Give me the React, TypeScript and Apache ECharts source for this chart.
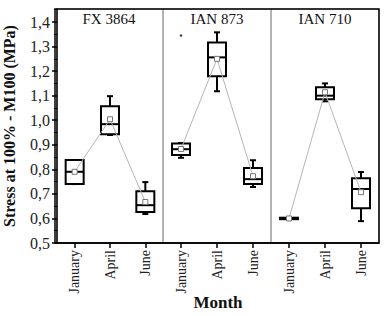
import React, { useEffect, useRef } from "react";
import * as echarts from "echarts";

const categories = ["January", "April", "June"];
const panelTitles = ["FX 3864", "IAN 873", "IAN 710"];
const yTickValues = [0.5, 0.6, 0.7, 0.8, 0.9, 1.0, 1.1, 1.2, 1.3, 1.4];

// [min, Q1, median, Q3, max]
const fx3864Box = [
  [0.74, 0.74, 0.79, 0.838, 0.838],
  [0.94, 0.943, 0.984, 1.057, 1.098],
  [0.618, 0.626, 0.654, 0.711, 0.748],
];
const fx3864Mean = [0.79, 1.004, 0.667];

const ian873Box = [
  [0.847, 0.858, 0.882, 0.905, 0.907],
  [1.118, 1.179, 1.256, 1.317, 1.358],
  [0.728, 0.74, 0.76, 0.805, 0.837],
];
const ian873Mean = [0.883, 1.25, 0.772];
const ian873Outliers = [[0, 1.345]];

const ian710Box = [
  [0.594, 0.597, 0.6, 0.603, 0.606],
  [1.077, 1.085, 1.1, 1.134, 1.15],
  [0.589, 0.642, 0.72, 0.764, 0.789],
];
const ian710Mean = [0.6, 1.114, 0.707];

const boxes = [fx3864Box, ian873Box, ian710Box];
const means = [fx3864Mean, ian873Mean, ian710Mean];
const outliers = [[], ian873Outliers, []];

const FONT = "Liberation Serif";

export default function App() {
  const ref = useRef<HTMLDivElement>(null);
  useEffect(() => {
    document.body.style.margin = "0";
    const chart = echarts.init(ref.current!, undefined, { renderer: "svg" });
    const gridLeft = [55, 163, 271];
    const gridW = 108;
    const top = 9;
    const height = 234;

    const renderBox = (params: any, api: any) => {
      const x = api.value(0);
      const pMin = api.coord([x, api.value(1)]);
      const pQ1 = api.coord([x, api.value(2)]);
      const pMed = api.coord([x, api.value(3)]);
      const pQ3 = api.coord([x, api.value(4)]);
      const pMax = api.coord([x, api.value(5)]);
      const cx = pMin[0];
      const hw = 9;
      const cap = 3;
      const st = { stroke: "#000", lineWidth: 2, fill: "none" };
      return {
        type: "group",
        children: [
          { type: "line", shape: { x1: cx, y1: pMax[1], x2: cx, y2: pQ3[1] }, style: st },
          { type: "line", shape: { x1: cx - cap, y1: pMax[1], x2: cx + cap, y2: pMax[1] }, style: st },
          { type: "line", shape: { x1: cx, y1: pQ1[1], x2: cx, y2: pMin[1] }, style: st },
          { type: "line", shape: { x1: cx - cap, y1: pMin[1], x2: cx + cap, y2: pMin[1] }, style: st },
          {
            type: "rect",
            shape: { x: cx - hw, y: pQ3[1], width: hw * 2, height: pQ1[1] - pQ3[1] },
            style: { stroke: "#000", lineWidth: 2, fill: "#fff" },
          },
          { type: "line", shape: { x1: cx - hw, y1: pMed[1], x2: cx + hw, y2: pMed[1] }, style: st },
        ],
      };
    };

    const grids: any[] = [];
    const xAxes: any[] = [];
    const yAxes: any[] = [];
    const series: any[] = [];
    for (let i = 0; i < 3; i++) {
      grids.push({
        left: gridLeft[i],
        top,
        width: gridW,
        height,
        show: true,
        borderColor: "#9a9a9a",
        borderWidth: 1,
        backgroundColor: "transparent",
      });
      xAxes.push({
        type: "category",
        gridIndex: i,
        data: categories,
        boundaryGap: true,
        axisLine: { show: true, lineStyle: { color: "#000", width: 1.5 } },
        axisTick: { show: true, alignWithLabel: true, length: 5, lineStyle: { color: "#000", width: 1.5 } },
        axisLabel: {
          rotate: 90,
          margin: 7,
          fontFamily: FONT,
          fontSize: 14,
          color: "#222",
          interval: 0,
        },
        splitLine: { show: false },
      });
      yAxes.push({
        type: "value",
        gridIndex: i,
        min: 0.5,
        max: 1.453,
        interval: 0.1,
        show: true,
        name: i === 0 ? "Stress at 100% - M100 (MPa)" : "",
        nameLocation: "middle",
        nameGap: 40,
        nameTextStyle: { fontFamily: FONT, fontSize: 16, fontWeight: "bold", color: "#111" },
        axisLine: { show: i === 0, lineStyle: { color: "#000", width: 1.5 } },
        axisTick: {
          show: i === 0,
          length: 5,
          customValues: yTickValues,
          lineStyle: { color: "#000", width: 1.5 },
        },
        minorTick: { show: i === 0, splitNumber: 2, length: 3, lineStyle: { color: "#000", width: 1 } },
        axisLabel: {
          show: i === 0,
          margin: 7,
          customValues: yTickValues,
          fontFamily: FONT,
          fontSize: 16,
          color: "#222",
          formatter: (v: number) => v.toFixed(1).replace(".", ","),
        },
        splitLine: { show: false },
        minorSplitLine: { show: false },
      });
      series.push({
        type: "custom",
        xAxisIndex: i,
        yAxisIndex: i,
        renderItem: renderBox,
        encode: { x: 0, y: [1, 2, 3, 4, 5] },
        data: boxes[i].map((b, k) => [k, ...b]),
        z: 2,
      });
      series.push({
        type: "line",
        xAxisIndex: i,
        yAxisIndex: i,
        data: means[i],
        symbol: "rect",
        symbolSize: 5,
        showAllSymbol: true,
        lineStyle: { color: "#b5b5b5", width: 1 },
        itemStyle: { color: "#fff", borderColor: "#777", borderWidth: 1 },
        z: 4,
      });
      if (outliers[i].length) {
        series.push({
          type: "scatter",
          xAxisIndex: i,
          yAxisIndex: i,
          data: outliers[i],
          symbol: "circle",
          symbolSize: 2.5,
          itemStyle: { color: "#000" },
          z: 5,
        });
      }
    }

    chart.setOption({
      animation: false,
      backgroundColor: "#fff",
      grid: grids,
      xAxis: xAxes,
      yAxis: yAxes,
      series,
      graphic: [
        {
          type: "rect",
          shape: { x: 55, y: 9, width: 324, height: 234 },
          style: { stroke: "#000", lineWidth: 1.5, fill: "none" },
          z: 100,
        },
        ...panelTitles.map((t, i) => ({
          type: "text",
          x: gridLeft[i] + gridW / 2,
          y: 19,
          style: {
            text: t,
            fontFamily: FONT,
            fontSize: 15,
            fill: "#111",
            textAlign: "center",
            textVerticalAlign: "middle",
          },
          z: 100,
        })),
        {
          type: "text",
          x: 218,
          y: 302,
          style: {
            text: "Month",
            fontFamily: FONT,
            fontSize: 17,
            fontWeight: "bold",
            fill: "#111",
            textAlign: "center",
            textVerticalAlign: "middle",
          },
        },
      ],
    });
    return () => chart.dispose();
  }, []);
  return <div ref={ref} style={{ width: 389, height: 316 }} />;
}
